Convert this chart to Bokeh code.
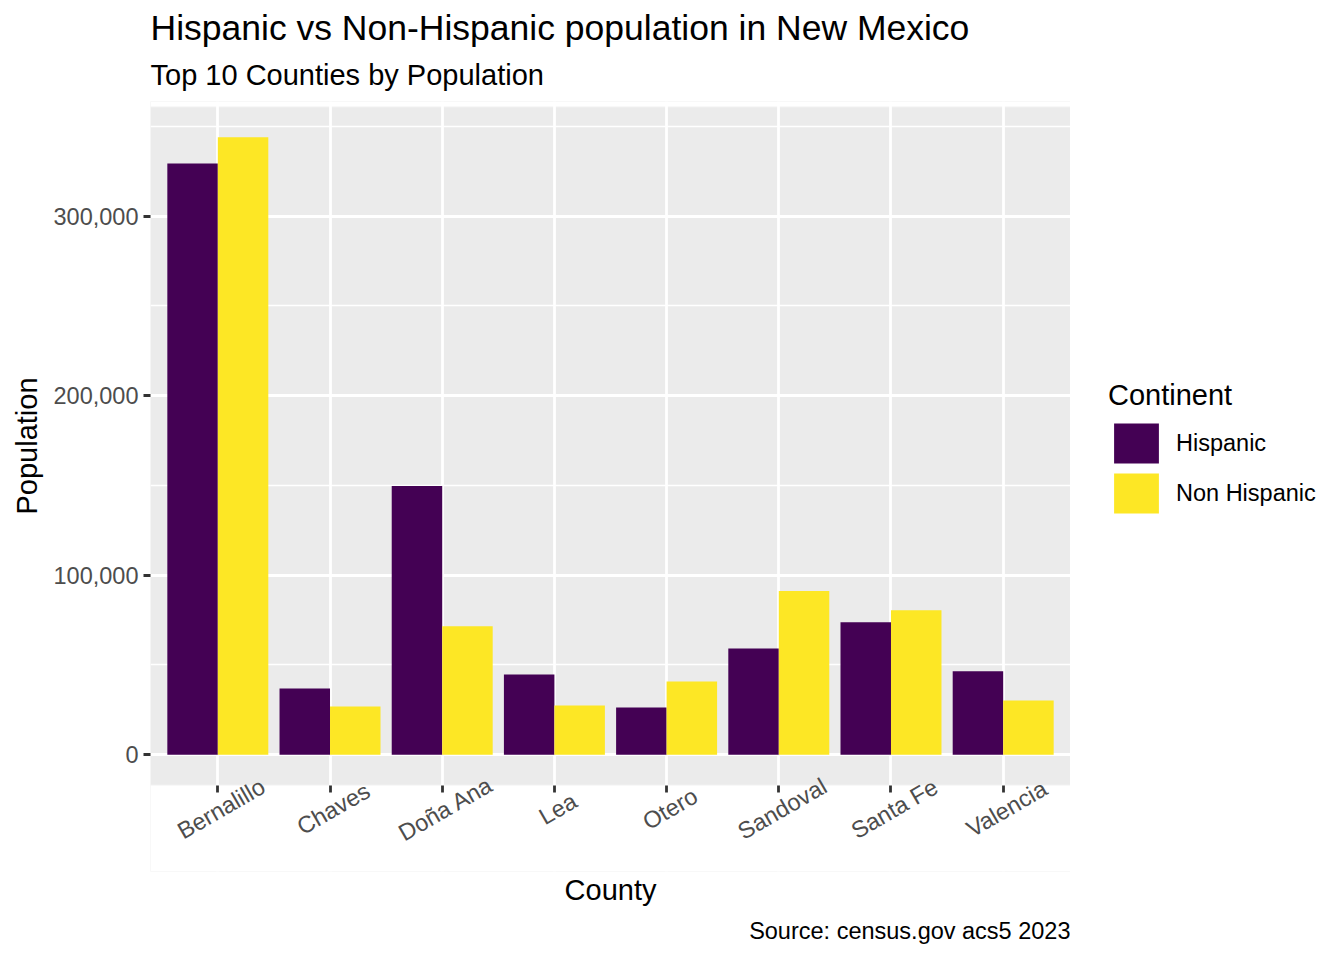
import math
from bokeh.plotting import figure
from bokeh.layouts import row
from bokeh.models import (ColumnDataSource, FactorRange, Range1d, FixedTicker, BoxAnnotation,
                          NumeralTickFormatter, Legend, LegendItem, Title)
from bokeh.transform import dodge
from bokeh.embed import file_html
from bokeh.resources import INLINE

counties = ["Bernalillo", "Chaves", "Doña Ana", "Lea", "Otero", "Sandoval", "Santa Fe", "Valencia"]
hispanic = [329400, 36900, 149700, 44700, 26300, 59200, 73700, 46400]
non_hispanic = [343900, 26800, 71500, 27400, 40800, 91100, 80400, 30200]
groups = ["Hispanic", "Non Hispanic"]
colors = ["#440154", "#FDE725"]
y_ticks = [0, 100000, 200000, 300000]
y_minor = [50000, 150000, 250000, 350000]

FONT = "Liberation Sans"
PANEL_PX = 679      # height of the grey panel
TOP_PX = 5          # white strip above the panel
BAND_PX = 86        # white strip below the panel holding the rotated labels

ymax = max(max(hispanic), max(non_hispanic))
y_start = -0.05 * ymax
y_end = 1.05 * ymax
span = y_end - y_start
y_lo = y_start - BAND_PX / PANEL_PX * span
y_hi = y_end + TOP_PX / PANEL_PX * span

src = ColumnDataSource(dict(county=counties, hispanic=hispanic, non_hispanic=non_hispanic))
xr = FactorRange(factors=counties, range_padding=0.1, range_padding_units="absolute")

# ---------------- main plot ----------------
p = figure(x_range=xr, y_range=Range1d(y_lo, y_hi),
           width=1070, height=960, title=None,
           output_backend="svg", toolbar_location=None,
           min_border_left=149, min_border_right=0, min_border_top=101, min_border_bottom=89)
p.background_fill_color = "#EBEBEB"
p.border_fill_color = "white"
p.outline_line_color = None

p.vbar(x=dodge("county", -0.225, range=xr), top="hispanic", width=0.45,
       source=src, fill_color=colors[0], line_color=None)
p.vbar(x=dodge("county", 0.225, range=xr), top="non_hispanic", width=0.45,
       source=src, fill_color=colors[1], line_color=None)

p.xgrid.grid_line_color = "white"
p.xgrid.grid_line_width = 2.8
p.ygrid.grid_line_color = "white"
p.ygrid.grid_line_width = 2.8
p.ygrid.minor_grid_line_color = "white"
p.ygrid.minor_grid_line_width = 1.4

# white strips above and below the grey panel
p.add_layout(BoxAnnotation(top=y_start, fill_color="white", fill_alpha=1.0,
                           line_color="white", line_width=2, level="glyph"))
p.add_layout(BoxAnnotation(bottom=y_end, fill_color="white", fill_alpha=1.0,
                           line_color="white", line_width=2, level="glyph"))

p.yaxis.ticker = FixedTicker(ticks=y_ticks, minor_ticks=y_minor)
p.yaxis.formatter = NumeralTickFormatter(format="0,0")
p.yaxis.bounds = (y_start, y_end)
p.xaxis.fixed_location = y_start
for ax in (p.xaxis[0], p.yaxis[0]):
    ax.axis_line_color = None
    ax.major_tick_line_color = "#333333"
    ax.major_tick_line_width = 2.8
    ax.major_tick_out = 7
    ax.major_tick_in = 0
    ax.minor_tick_line_color = None
    ax.major_label_text_font = FONT
    ax.major_label_text_color = "#4D4D4D"
    ax.major_label_text_font_size = "23.5px"
p.yaxis.major_label_standoff = 5
p.xaxis.major_label_text_font_size = "0px"
p.xaxis.major_label_text_alpha = 0
p.xaxis.major_label_standoff = 0

# rotated county labels
p.text(x="county", y=y_start, text="county", source=src, angle=math.pi / 6,
       text_align="center", text_baseline="top", y_offset=12, x_offset=-3,
       text_font={"value": FONT}, text_font_size="23.5px", text_color="#4D4D4D",
       level="overlay")

# y axis title, centred on the grey panel
p.add_layout(Title(text="Population", text_font=FONT, text_font_size="29px",
                   text_font_style="normal", text_color="black", align="left",
                   vertical_align="bottom", offset=357, standoff=16), "left")

# titles
p.add_layout(Title(text="Top 10 Counties by Population", text_font=FONT, text_font_size="29px",
                   text_font_style="normal", text_color="black", align="left",
                   vertical_align="top", standoff=17), "above")
p.add_layout(Title(text="Hispanic vs Non-Hispanic population in New Mexico", text_font=FONT,
                   text_font_size="35.5px", text_font_style="normal", text_color="black",
                   align="left", vertical_align="top", standoff=1), "above")
p.add_layout(Title(text="County", text_font=FONT, text_font_size="29px", text_font_style="normal",
                   text_color="black", align="center", standoff=1), "below")
p.add_layout(Title(text="Source: census.gov acs5 2023", text_font=FONT, text_font_size="23.5px",
                   text_font_style="normal", text_color="black", align="right", standoff=19), "below")

# ---------------- legend strip (right) ----------------
pl = figure(width=274, height=960, title=None, output_backend="svg", toolbar_location=None,
            x_axis_location=None, y_axis_location=None,
            min_border_left=0, min_border_right=0, min_border_top=101, min_border_bottom=89)
pl.grid.visible = False
pl.outline_line_color = None
pl.background_fill_color = "white"
pl.border_fill_color = "white"
k1 = pl.vbar(x=[0], top=[0], width=0, fill_color=colors[0], line_color=None)
k2 = pl.vbar(x=[0], top=[0], width=0, fill_color=colors[1], line_color=None)

legend = Legend(items=[LegendItem(label=groups[0], renderers=[k1]),
                       LegendItem(label=groups[1], renderers=[k2])],
                title="Continent", location=(38, 353),
                title_text_font=FONT, title_text_font_size="29px", title_text_font_style="normal",
                title_text_color="black", title_standoff=6,
                label_text_font=FONT, label_text_font_size="23.5px", label_text_color="black",
                glyph_width=56, glyph_height=50, spacing=0, label_standoff=12,
                padding=0, margin=0, border_line_color=None, background_fill_alpha=0)
pl.add_layout(legend)

layout = row(p, pl, spacing=0)
open("out.html", "w").write(file_html(layout, INLINE))
